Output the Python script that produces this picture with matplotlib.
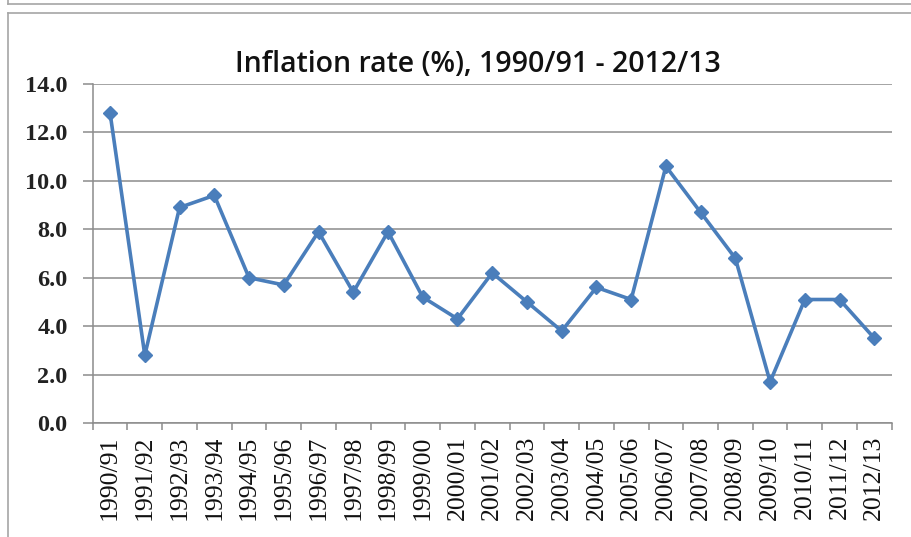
import numpy as np
import matplotlib.pyplot as plt
from matplotlib.lines import Line2D

# inflation rate per fiscal year
years = ['1990/91', '1991/92', '1992/93', '1993/94', '1994/95', '1995/96',
         '1996/97', '1997/98', '1998/99', '1999/00', '2000/01', '2001/02',
         '2002/03', '2003/04', '2004/05', '2005/06', '2006/07', '2007/08',
         '2008/09', '2009/10', '2010/11', '2011/12', '2012/13']
inflation = [12.8, 2.8, 8.9, 9.4, 6.0, 5.7, 7.9, 5.4, 7.9, 5.2, 4.3, 6.2,
             5.0, 3.8, 5.6, 5.1, 10.6, 8.7, 6.8, 1.7, 5.1, 5.1, 3.5]
y_ticks = [0, 2, 4, 6, 8, 10, 12, 14]

W, H = 912, 537
fig = plt.figure(figsize=(W / 100, H / 100), dpi=100)
ax = fig.add_axes([92.7 / W, 1 - 423 / H, (891.7 - 92.7) / W, (423 - 84) / H])

grey = '#8c8c8c'
x = np.arange(len(years))
ax.plot(x, inflation, color='#4a7ebb', lw=2.6, marker='D', ms=7,
        mec='#4a7ebb', mfc='#4a7ebb', zorder=3)

ax.set_xlim(-0.5, len(years) - 0.5)
ax.set_ylim(0, 14)
ax.set_yticks(y_ticks)
ax.set_yticklabels([f'{v:.1f}' for v in y_ticks], fontfamily='Liberation Serif',
                   fontsize=17.5, fontweight='bold', color='#222222')
ax.yaxis.grid(True, color=grey, lw=1.1)
ax.set_axisbelow(True)
ax.tick_params(axis='y', length=7, width=1.1, color=grey, pad=11)

ax.set_xticks(x)
ax.set_xticklabels(years, rotation=90, fontfamily='Liberation Serif',
                   fontsize=18.5, color='#111111')
ax.set_xticks(np.arange(-0.5, len(years)), minor=True)
ax.tick_params(axis='x', which='major', length=0, pad=9)
ax.tick_params(axis='x', which='minor', length=5, width=1.1, color=grey)

for side in ['top', 'right']:
    ax.spines[side].set_visible(False)
for side in ['left', 'bottom']:
    ax.spines[side].set_color(grey)
    ax.spines[side].set_linewidth(1.1)

fig.text(478 / W, 1 - 64 / H, 'Inflation rate (%), 1990/91 - 2012/13',
         ha='center', va='center', fontsize=20.5, fontweight='semibold',
         fontfamily='Open Sans', color='#111111')

# frame lines of the surrounding boxes
border = '#a6a6a6'
fig.add_artist(Line2D([8 / W, 1], [1 - 4 / H, 1 - 4 / H], color=border, lw=1.2))
fig.add_artist(Line2D([8 / W, 8 / W], [1, 1 - 4 / H], color=border, lw=1.2))
fig.add_artist(Line2D([8 / W, 1], [1 - 13 / H, 1 - 13 / H], color=border, lw=1.2))
fig.add_artist(Line2D([8 / W, 8 / W], [0, 1 - 13 / H], color=border, lw=1.2))

fig.savefig('out.png', dpi=100)
